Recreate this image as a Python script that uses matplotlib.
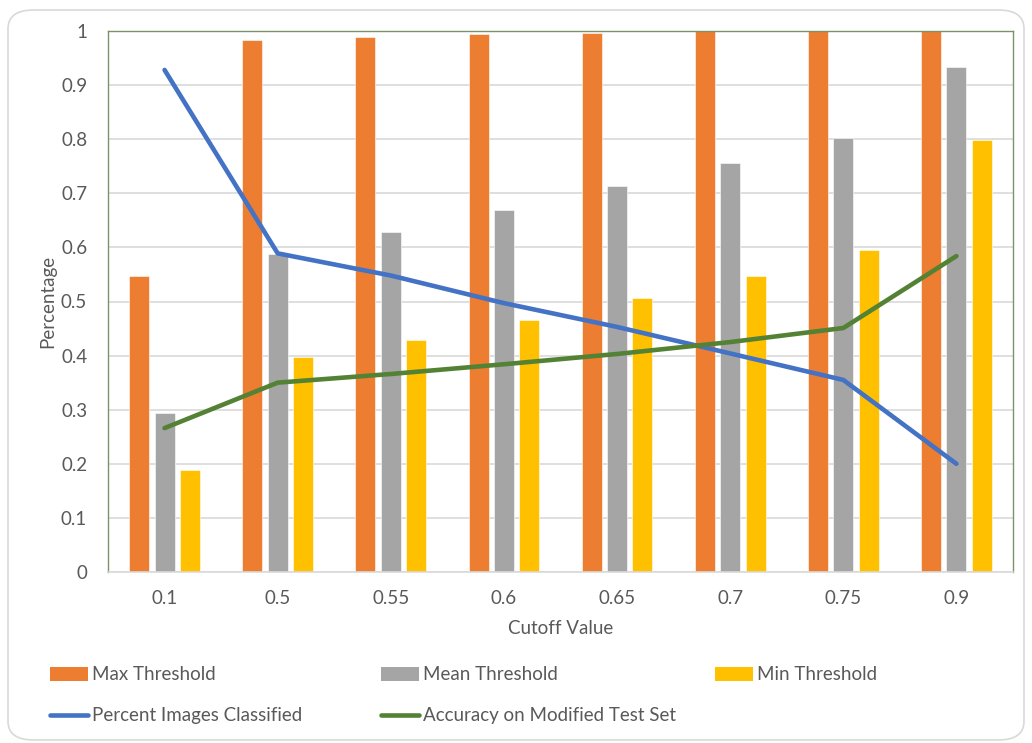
import numpy as np
import matplotlib.pyplot as plt
from matplotlib.patches import FancyBboxPatch, Patch
from matplotlib.lines import Line2D

plt.rcParams['font.family'] = ['Lato', 'DejaVu Sans']

cutoffs = ['0.1', '0.5', '0.55', '0.6', '0.65', '0.7', '0.75', '0.9']
max_threshold = [0.548, 0.983, 0.989, 0.995, 0.996, 1.0, 1.0, 1.0]
mean_threshold = [0.293, 0.588, 0.628, 0.670, 0.713, 0.756, 0.802, 0.933]
min_threshold = [0.189, 0.397, 0.429, 0.466, 0.506, 0.548, 0.595, 0.798]
pct_classified = [0.928, 0.589, 0.548, 0.497, 0.453, 0.404, 0.355, 0.200]
accuracy_modified = [0.266, 0.350, 0.366, 0.384, 0.403, 0.425, 0.451, 0.584]

orange = '#ED7D31'
gray = '#A5A5A5'
yellow = '#FFC000'
blue = '#4472C4'
green = '#548235'
text_col = '#595959'
grid_col = '#D9D9D9'

W, H = 1032, 743
fig = plt.figure(figsize=(W / 100, H / 100), dpi=100)

# rounded outer frame of the chart, kept behind everything else
frame = FancyBboxPatch((8 / W, 3 / H), 1016 / W, 730 / H,
                       boxstyle='round,pad=0,rounding_size=0.025',
                       transform=fig.transFigure, facecolor='white',
                       edgecolor=grid_col, linewidth=1.2, zorder=-10)
fig.patches.append(frame)

ax = fig.add_axes([108 / W, 1 - 572 / H, 905 / W, 541 / H])
ax.set_zorder(5)
ax.set_facecolor('none')
x = np.arange(len(cutoffs))
bw = 0.177
step = 0.224

ax.bar(x - step, max_threshold, bw, color=orange, edgecolor='white', linewidth=0.4, zorder=2)
ax.bar(x, mean_threshold, bw, color=gray, edgecolor='white', linewidth=0.4, zorder=2)
ax.bar(x + step, min_threshold, bw, color=yellow, edgecolor='white', linewidth=0.4, zorder=2)
ax.plot(x, pct_classified, color=blue, linewidth=3.3, solid_capstyle='round', zorder=3)
ax.plot(x, accuracy_modified, color=green, linewidth=3.3, solid_capstyle='round', zorder=3)

ax.set_xlim(-0.5, len(cutoffs) - 0.5)
ax.set_ylim(0, 1)
ax.set_yticks(np.arange(0, 1.01, 0.1))
ax.set_yticklabels(['0'] + ['%.1f' % v for v in np.arange(0.1, 0.95, 0.1)] + ['1'])
ax.set_xticks(x)
ax.set_xticklabels(cutoffs)
ax.tick_params(axis='both', length=0, labelsize=13.5, labelcolor=text_col)
ax.tick_params(axis='y', pad=15)
ax.tick_params(axis='x', pad=13)
ax.yaxis.grid(True, color=grid_col, linewidth=1.2, zorder=0)
ax.set_axisbelow(True)

for side in ['left', 'top', 'right']:
    ax.spines[side].set_color('#7A9466')
    ax.spines[side].set_linewidth(1.0)
ax.spines['bottom'].set_color(grid_col)
ax.spines['bottom'].set_linewidth(1.2)

ax.set_xlabel('Cutoff Value', fontsize=13.5, color=text_col, labelpad=9)
ax.set_ylabel('Percentage', fontsize=13.5, color=text_col, labelpad=3)

handles = [
    Patch(facecolor=orange, label='Max Threshold'),
    Patch(facecolor=gray, label='Mean Threshold'),
    Patch(facecolor=yellow, label='Min Threshold'),
    Line2D([], [], color=blue, linewidth=3, label='Percent Images Classified'),
    Line2D([], [], color=green, linewidth=3, label='Accuracy on Modified Test Set'),
]
# two legend rows laid out on a fixed column grid
cols = [50, 381, 715]
rows = [674, 715]
for i, h in enumerate(handles):
    r, c = divmod(i, 3)
    lx, ly = cols[c] / W, 1 - rows[r] / H
    if isinstance(h, Patch):
        fig.patches.append(plt.Rectangle((lx, ly - 7 / H), 38 / W, 14 / H,
                                         transform=fig.transFigure,
                                         facecolor=h.get_facecolor(), edgecolor='none'))
    else:
        fig.lines.append(Line2D([lx, lx + 38 / W], [ly, ly], transform=fig.transFigure,
                                color=h.get_color(), linewidth=3.3, solid_capstyle='round'))
    fig.text(lx + 42 / W, ly, h.get_label(), fontsize=13.5, color=text_col,
             va='center', ha='left')

fig.savefig('out.png', dpi=100)
